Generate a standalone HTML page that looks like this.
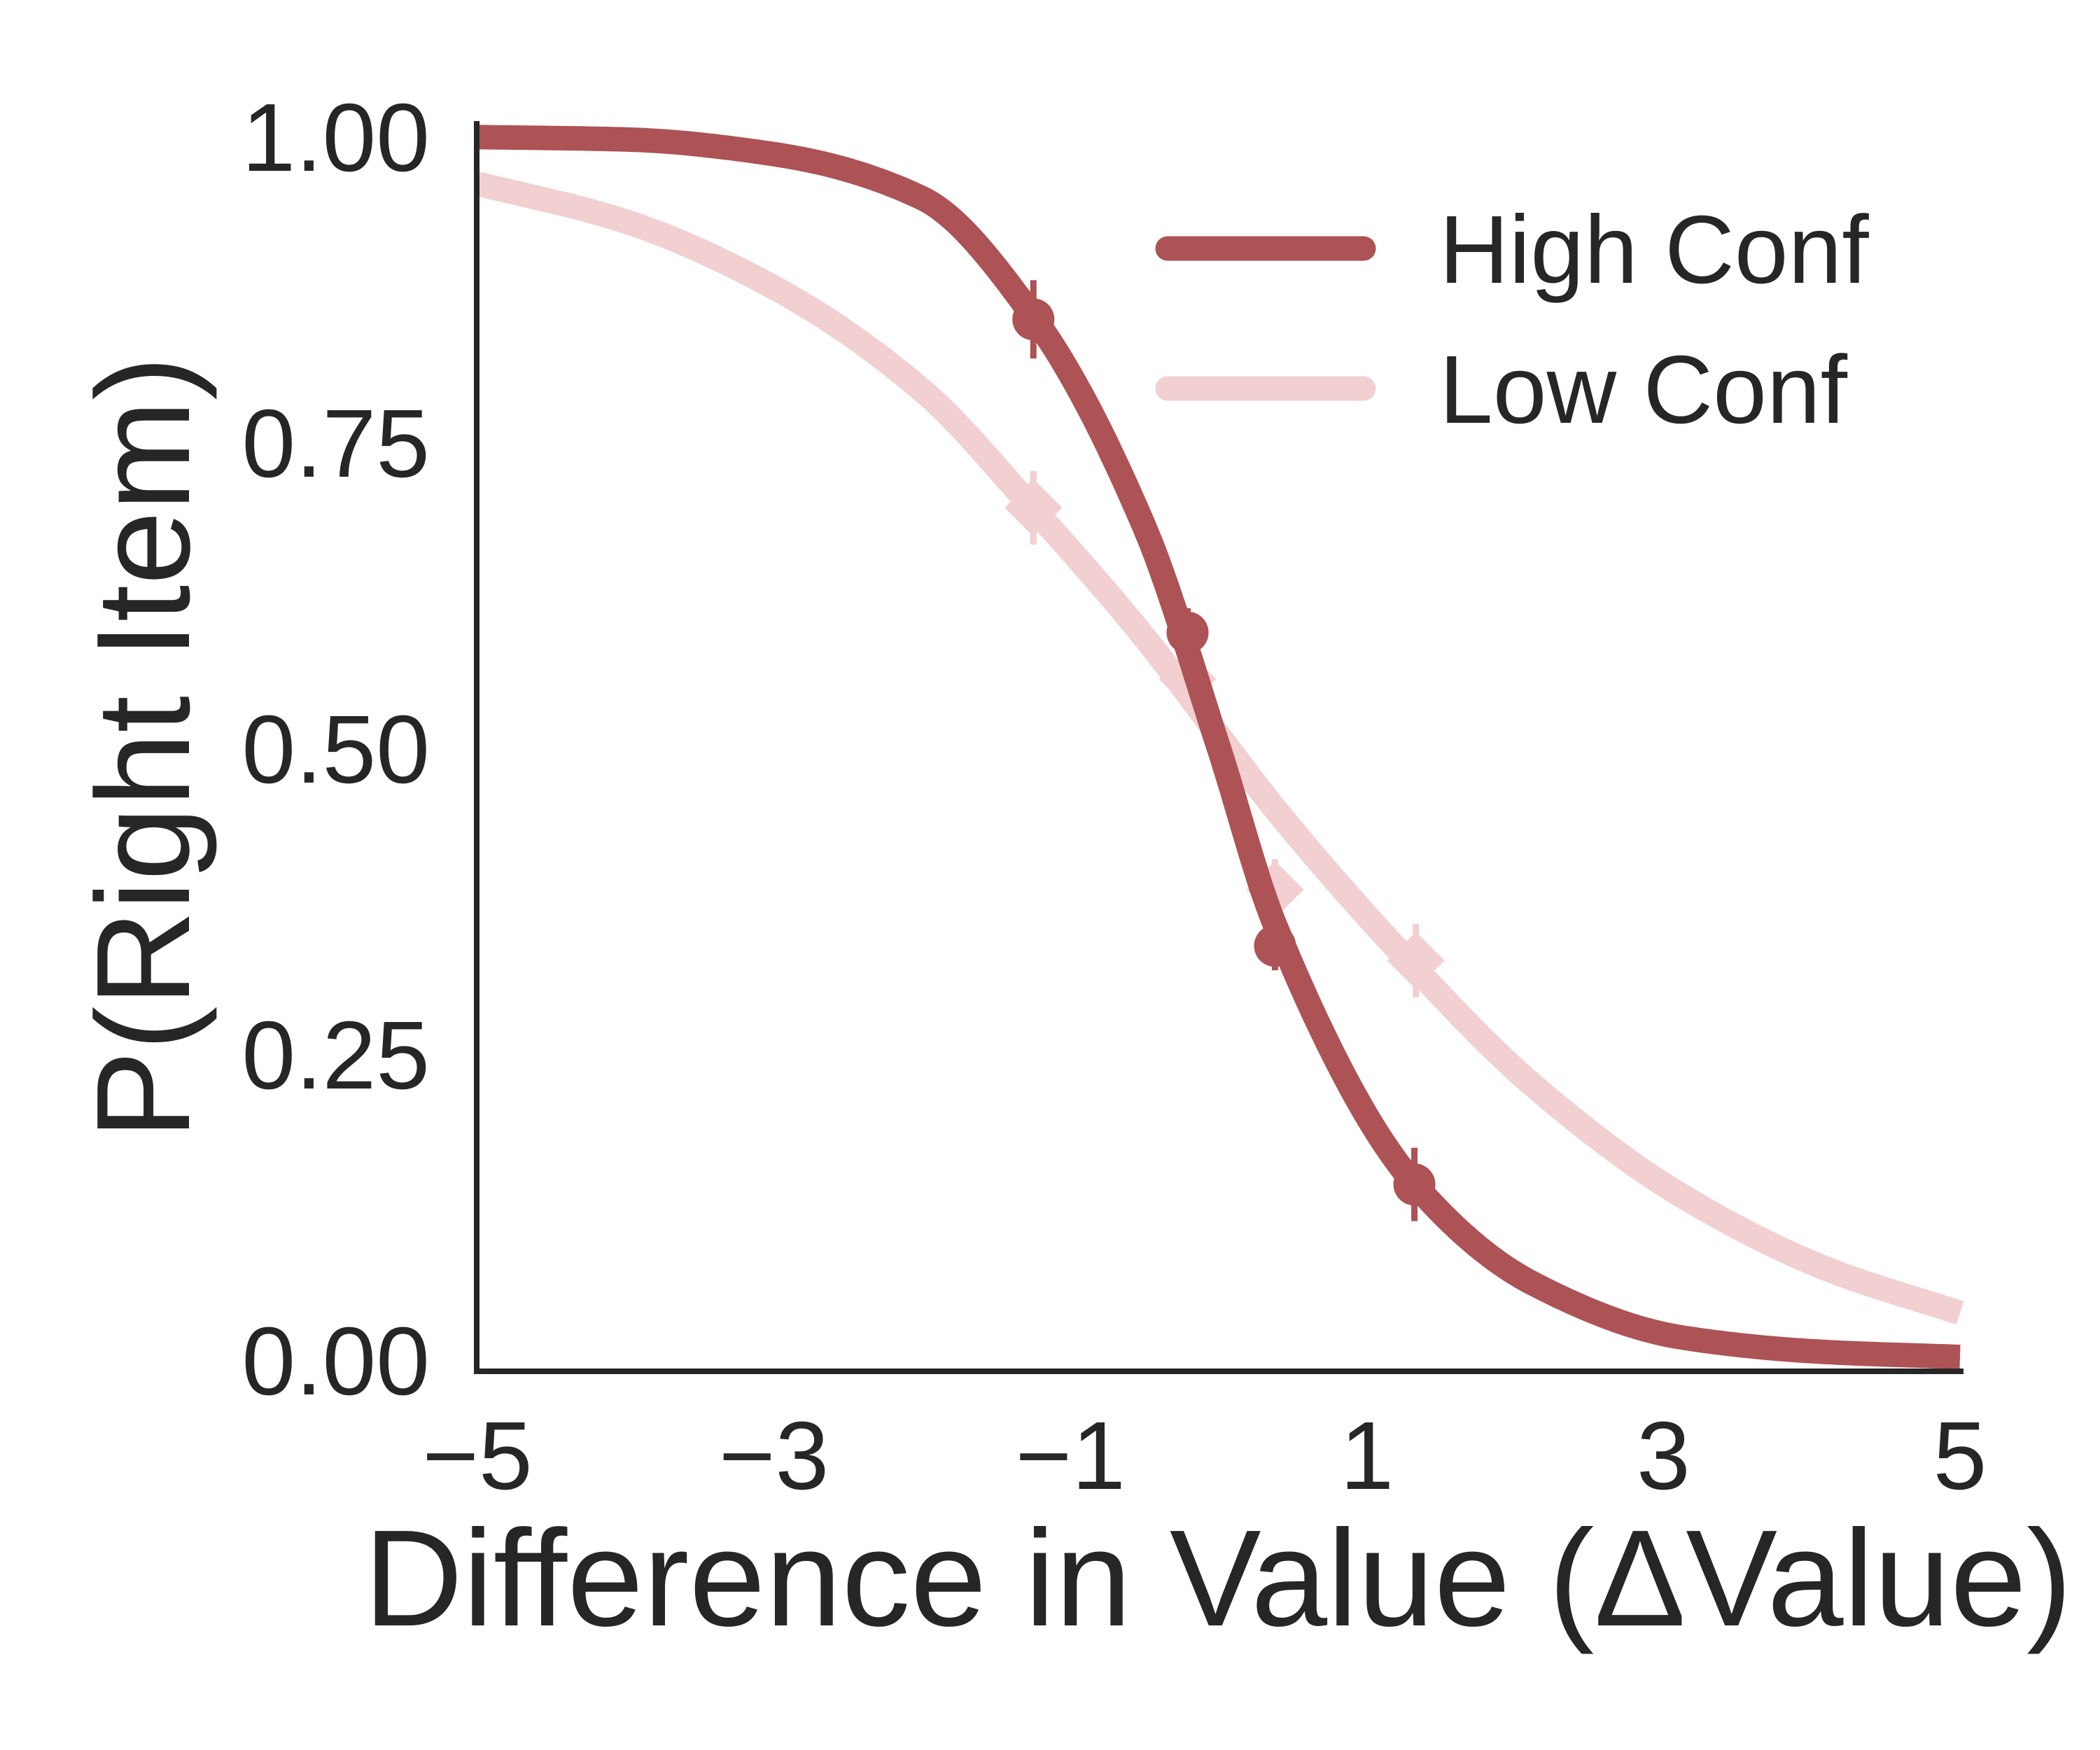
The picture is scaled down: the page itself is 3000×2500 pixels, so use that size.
<!DOCTYPE html>
<html><head><meta charset="utf-8"><style>
html,body{margin:0;padding:0;background:#fff;}
svg{display:block;font-family:"Liberation Sans",Arial,sans-serif;}
</style></head><body>
<svg id="chart" width="3000" height="2500" viewBox="0 0 3000 2500" xmlns="http://www.w3.org/2000/svg">
<rect width="3000" height="2500" fill="#fff"/>
<g id="series"></g>
<g id="axes"></g>
<g id="legend">
  <line x1="1668" y1="355" x2="1948" y2="355" stroke="#ad5255" stroke-width="35" stroke-linecap="round"/>
  <text x="2056" y="404" font-size="138" fill="#262626">High Conf</text>
  <line x1="1668" y1="555" x2="1948" y2="555" stroke="#f2cfd0" stroke-width="35" stroke-linecap="round"/>
  <text x="2056" y="604" font-size="138" fill="#262626">Low Conf</text>
</g>
<text x="1740" y="2322" font-size="196" text-anchor="middle" fill="#262626">Difference in Value (ΔValue)</text>
<text transform="translate(270,1068) rotate(-90)" font-size="190" text-anchor="middle" fill="#262626">P(Right Item)</text>
</svg>
<script>
const curveX = [-5,-4,-3,-2,-1.25,-0.5,0,0.38,1.33,2.12,3.12,4.1,5];
const highCurve = [0.999,0.997,0.985,0.949,0.852,0.68,0.50,0.355,0.142,0.062,0.018,0.006,0.002];
const lowCurve = [0.961,0.930,0.876,0.792,0.695,0.59,0.51,0.45,0.319,0.224,0.134,0.074,0.038];
const highPtX = [-1.25,-0.21,0.38,1.32];
const highPtY = [0.85,0.594,0.338,0.143];
const highErr = [0.032,0.02,0.02,0.03];
const lowPtX = [-1.25,-0.21,0.38,1.33];
const lowPtY = [0.696,0.556,0.384,0.326];
const lowErr = [0.03,0.02,0.025,0.03];
const xTicks = [-5,-3,-1,1,3,5];
const xTickLabels = ["\u22125","\u22123","\u22121","1","3","5"];
const yTicks = [0,0.25,0.5,0.75,1];
const yTickLabels = ["0.00","0.25","0.50","0.75","1.00"];

const NS = "http://www.w3.org/2000/svg";
const X0 = 682, X1 = 2800, Y0 = 1942, Y1 = 194;
function sx(v){ return X0 + (v + 5) / 10 * (X1 - X0); }
function sy(p){ return Y0 - p * (Y0 - Y1); }
function mk(tag, attrs, parent){
  const el = document.createElementNS(NS, tag);
  for (const k in attrs) el.setAttribute(k, attrs[k]);
  parent.appendChild(el);
  return el;
}
// monotone cubic (Fritsch-Carlson) through the read values
function curvePath(xs, ys){
  const n = xs.length, d = [], m = [];
  for (let i=0;i<n-1;i++) d.push((ys[i+1]-ys[i])/(xs[i+1]-xs[i]));
  m.push(d[0]);
  for (let i=1;i<n-1;i++){
    if (d[i-1]*d[i] <= 0) m.push(0);
    else {
      const h0 = xs[i]-xs[i-1], h1 = xs[i+1]-xs[i];
      const w1 = 2*h1+h0, w2 = h1+2*h0;
      m.push((w1+w2)/(w1/d[i-1]+w2/d[i]));
    }
  }
  m.push(d[n-2]);
  let path = "";
  for (let i=0;i<n-1;i++){
    const h = xs[i+1]-xs[i];
    const steps = 30;
    for (let s=(i===0?0:1); s<=steps; s++){
      const t = s/steps, t2=t*t, t3=t2*t;
      const y = (2*t3-3*t2+1)*ys[i] + (t3-2*t2+t)*h*m[i] + (-2*t3+3*t2)*ys[i+1] + (t3-t2)*h*m[i+1];
      const x = xs[i] + t*h;
      path += (path ? " L" : "M") + sx(x).toFixed(1) + "," + sy(y).toFixed(1);
    }
  }
  return path;
}
const series = document.getElementById("series");
const axes = document.getElementById("axes");

// low conf
const lowG = mk("g", {}, series);


lowPtX.forEach((x,i)=>{
  const cx = sx(x), cy = sy(lowPtY[i]);
  const eb = mk("line", {x1:cx, x2:cx, y1:sy(lowPtY[i]+lowErr[i]), y2:sy(lowPtY[i]-lowErr[i]), stroke:"#f2cfd0","stroke-width":9}, lowG);
  
  
  const dm = mk("polygon", {points:(cx-41)+","+cy+" "+cx+","+(cy-41)+" "+(cx+41)+","+cy+" "+cx+","+(cy+41), fill:"#f2cfd0"}, lowG);
  
  
});
const lowLine = mk("path", {d:curvePath(curveX, lowCurve), fill:"none", stroke:"#f2cfd0","stroke-width":35}, lowG);



// high conf
const highG = mk("g", {}, series);


const highLine = mk("path", {d:curvePath(curveX, highCurve), fill:"none", stroke:"#ad5255","stroke-width":35}, highG);


highPtX.forEach((x,i)=>{
  const cx = sx(x), cy = sy(highPtY[i]);
  const eb = mk("line", {x1:cx, x2:cx, y1:sy(highPtY[i]+highErr[i]), y2:sy(highPtY[i]-highErr[i]), stroke:"#ad5255","stroke-width":9}, highG);
  
  
  const c = mk("circle", {cx:cx, cy:cy, r:30, fill:"#ad5255"}, highG);
  
  
});

// axes
const yAxis = mk("line", {x1:681, y1:173, x2:681, y2:1963, stroke:"#262626","stroke-width":8}, axes);


const xAxis = mk("line", {x1:677, y1:1959, x2:2805, y2:1959, stroke:"#262626","stroke-width":8}, axes);


xTicks.forEach((v,i)=>{
  const t = mk("text", {x:sx(v), y:2127, "font-size":138, "text-anchor":"middle", fill:"#262626"}, axes);
  t.textContent = xTickLabels[i];
  
  
});
yTicks.forEach((v,i)=>{
  const t = mk("text", {x:614, y:sy(v)+50, "font-size":138, "text-anchor":"end", fill:"#262626"}, axes);
  t.textContent = yTickLabels[i];
  
  
});
</script>
</body></html>
